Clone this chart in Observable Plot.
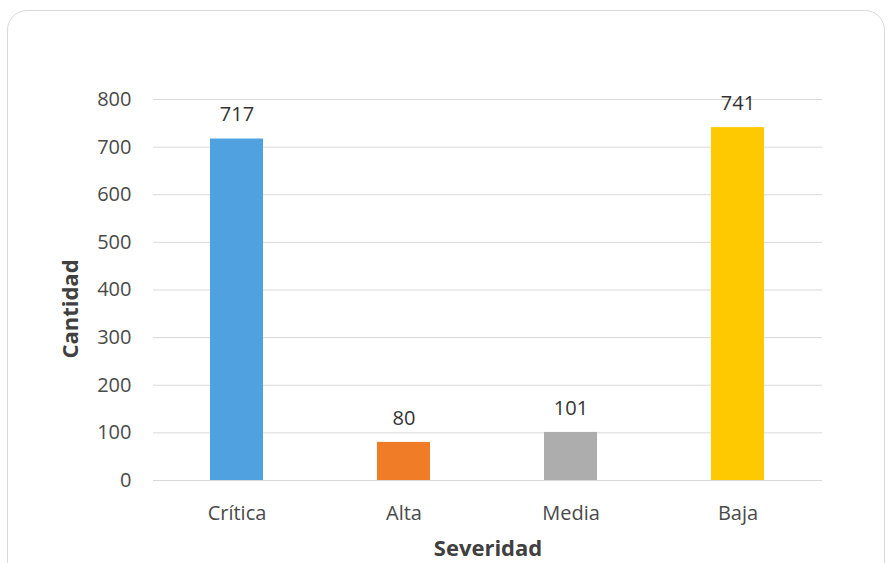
<!DOCTYPE html>
<html>
<head>
<meta charset="utf-8">
<script src="https://cdn.jsdelivr.net/npm/d3@7"></script>
<script src="https://cdn.jsdelivr.net/npm/@observablehq/plot@0.6"></script>
<style>
  html, body { margin: 0; padding: 0; background: #fff; }
  #wrap { position: relative; width: 888px; height: 563px; overflow: hidden; }
  #frame { position: absolute; left: 7px; top: 10px; width: 878px; height: 600px;
           border: 1.5px solid #d9d9d9; border-radius: 20px; box-sizing: border-box; }
  #chart { position: absolute; left: 0; top: 0; }
</style>
</head>
<body>
<div id="wrap"><div id="frame"></div><div id="chart"></div></div>
<script>
const categories = ["Crítica", "Alta", "Media", "Baja"];
const values = [717, 80, 101, 741];
const colors = ["#4fa1df", "#f07c28", "#adadad", "#ffc900"];
const yTicks = [0, 100, 200, 300, 400, 500, 600, 700, 800];
const xTitle = "Severidad";
const yTitle = "Cantidad";

const data = categories.map((c, i) => ({cat: c, value: values[i], color: colors[i]}));

const font = "'Open Sans', 'DejaVu Sans', sans-serif";

const chart = Plot.plot({
  width: 888,
  height: 563,
  marginLeft: 153,
  marginRight: 66,
  marginTop: 99,
  marginBottom: 83,
  style: {fontFamily: font, fontSize: "20px", background: "transparent", color: "#595959"},
  x: {domain: categories, paddingInner: 0.68, paddingOuter: 0.34, label: null},
  y: {domain: [0, 800], label: null},
  marks: [
    Plot.gridY(yTicks, {stroke: "#d9d9d9", strokeOpacity: 1, strokeWidth: 1}),
    Plot.axisY({ticks: yTicks, tickSize: 0, tickPadding: 22, label: null, fill: "#4a4a4a", fontSize: 20}),
    Plot.axisX({tickSize: 0, tickPadding: 25, label: null, fill: "#4a4a4a", fontSize: 20}),
    Plot.barY(data, {x: "cat", y: "value", fill: "color"}),
    Plot.text(data, {x: "cat", y: "value", text: d => String(d.value), dy: -24, fill: "#333333", fontSize: 20}),
    Plot.text([xTitle], {frameAnchor: "bottom", dy: 75, text: d => d, fontWeight: "bold", fontSize: 22, fill: "#404040"}),
    Plot.text([yTitle], {frameAnchor: "left", textAnchor: "middle", dx: -83, dy: 19, rotate: -90, text: d => d, fontWeight: "bold", fontSize: 22, fill: "#404040"})
  ]
});
document.getElementById("chart").appendChild(chart);
</script>
</body>
</html>
